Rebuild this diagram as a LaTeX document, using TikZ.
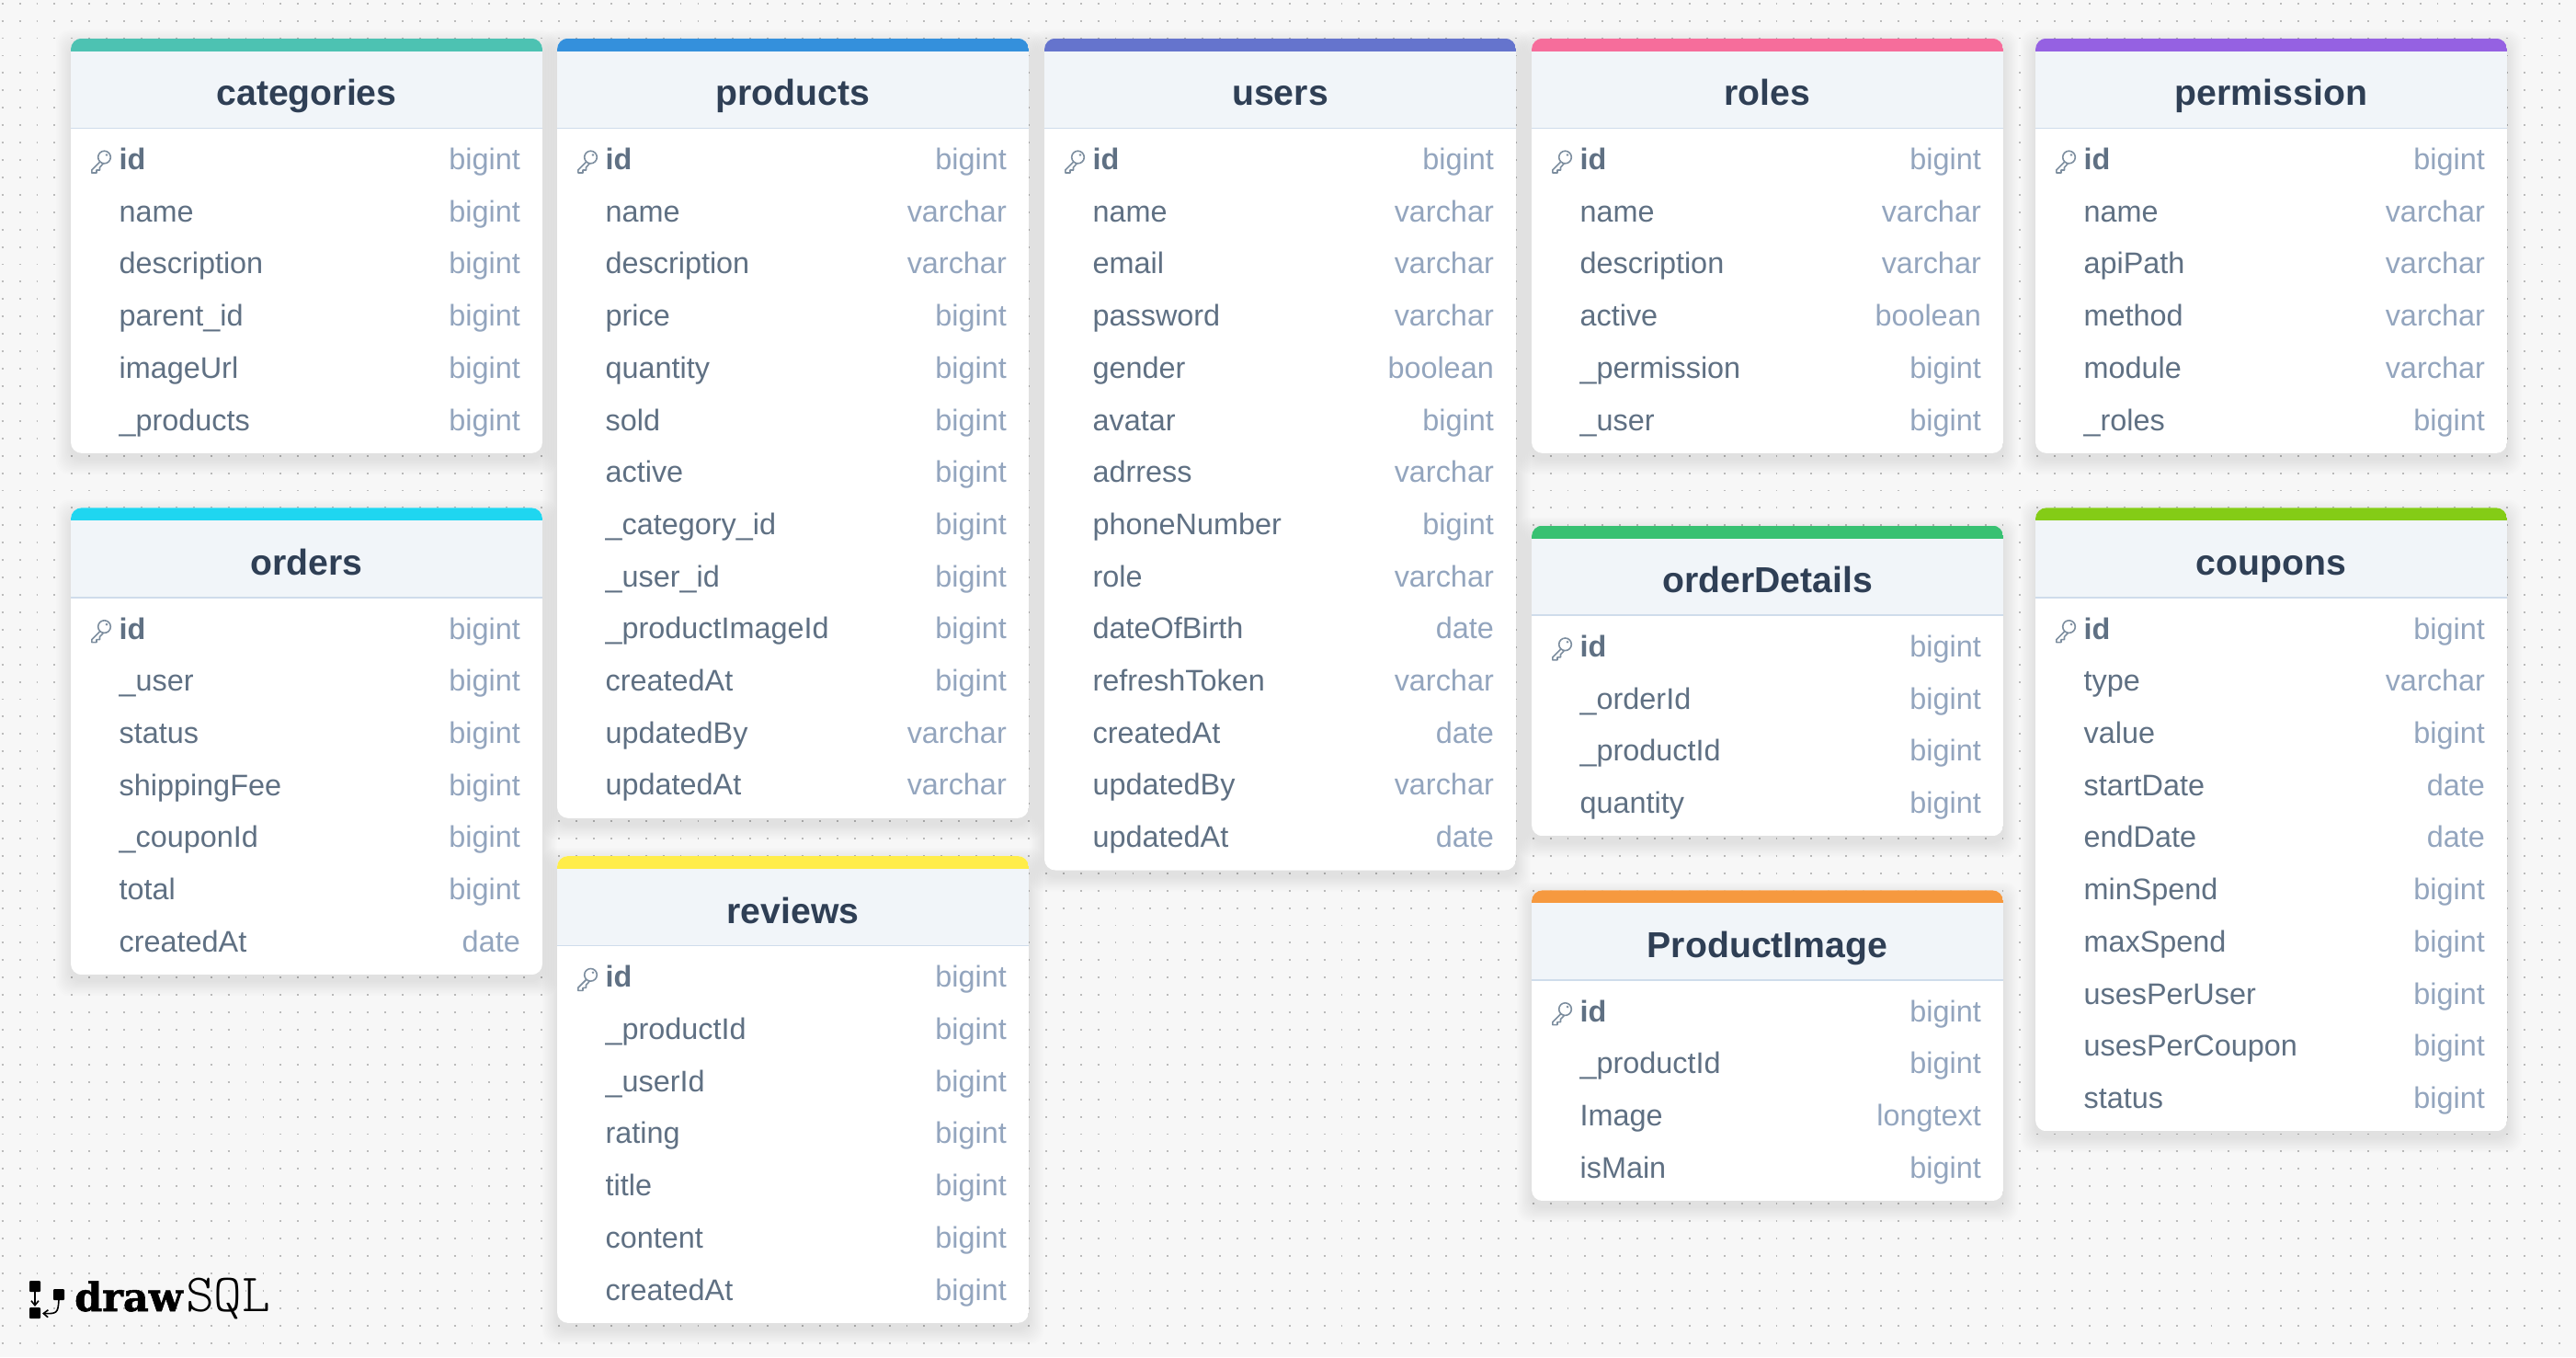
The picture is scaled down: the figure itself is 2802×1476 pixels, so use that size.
\documentclass[tikz,border=0pt]{standalone}
\usepackage{fontspec}
\setmainfont{Liberation Sans}
\newfontfamily\logobold{DejaVu Serif Bold}[FakeBold=1.3]
\newfontfamily\logolight{Latin Modern Mono Light}
\usetikzlibrary{arrows.meta}
\definecolor{pagebg}{HTML}{F7F7F7}
\definecolor{griddot}{HTML}{BBBBBB}
\definecolor{headfill}{HTML}{F1F5F9}
\definecolor{headline}{HTML}{CFDCEB}
\definecolor{titleink}{HTML}{2F3F55}
\definecolor{fieldink}{HTML}{5F7083}
\definecolor{typeink}{HTML}{93A5BE}
\definecolor{keyink}{HTML}{7D8E9F}
\definecolor{cteal}{HTML}{4DC2B2}
\definecolor{cblue}{HTML}{3490DC}
\definecolor{cindigo}{HTML}{6574CD}
\definecolor{cpink}{HTML}{F66D9B}
\definecolor{cpurple}{HTML}{9561E2}
\definecolor{ccyan}{HTML}{1FD6F0}
\definecolor{cyellow}{HTML}{FFED4A}
\definecolor{cgreen}{HTML}{38C172}
\definecolor{clime}{HTML}{84CC16}
\definecolor{corange}{HTML}{F6993F}
\pgfdeclarelayer{bglayer}
\pgfdeclarelayer{shadowlayer}
\pgfsetlayers{bglayer,shadowlayer,main}
\tikzset{
  titletext/.style={inner sep=0pt,anchor=base,text=titleink,font=\fontsize{39.2}{42}\selectfont\bfseries},
  fieldtext/.style={inner sep=0pt,anchor=base west,text=fieldink,font=\fontsize{32.4}{36}\selectfont},
  idtext/.style={inner sep=0pt,anchor=base west,text=fieldink,font=\fontsize{32.4}{36}\selectfont\bfseries},
  typetext/.style={inner sep=0pt,anchor=base east,text=typeink,font=\fontsize{32.4}{36}\selectfont},
  keyicon/.pic={
    \draw[keyink,line width=1.6pt,line join=round]
      (14.5,-0.5) circle (6.8)
      (9.8,4.5) -- (0.8,13.5) -- (0.8,16.5) -- (6,16.5) -- (6,13.5) -- (9.5,13.5) -- (9.5,10.5) -- (13.5,6.2);
    \fill[keyink] (17,-3) circle (1.4);
  }
}
\newcommand{\erdtable}[7]{% id, x, top, colour, title, row count, rows
  \pgfmathsetmacro{\tH}{111+56.7*#6}
  \begin{pgfonlayer}{shadowlayer}
    \foreach \e in {1,2.5,...,16}
      \fill[black,opacity=.008,rounded corners=14]
        ({#2-\e},{#3+7-\e}) rectangle ({#2+513+\e},{#3+\tH+7+\e});
  \end{pgfonlayer}
  \begin{scope}
    \clip[rounded corners=12] (#2,#3) rectangle ({#2+513},{#3+\tH});
    \fill[white] (#2,#3) rectangle ({#2+513},{#3+\tH});
    \fill[headfill] (#2,{#3+14}) rectangle ({#2+513},{#3+98});
    \fill[#4] (#2,#3) rectangle ({#2+513},{#3+14});
    \draw[headline,line width=1.5pt] (#2,{#3+97.6}) -- ({#2+513},{#3+97.6});
  \end{scope}
  \node[titletext] (#1-title) at ({#2+256.5},{#3+73}) {#5};
  \foreach \fname/\ftype [count=\k from 0] in {#7}{
    \pgfmathsetmacro{\rowy}{#3+142.8+56.7*\k}
    \ifnum\k=0
      \pic at ({#2+22},{\rowy-13}) {keyicon};
      \node[idtext] (#1-f\k) at ({#2+52.4},\rowy) {\fname};
    \else
      \node[fieldtext] (#1-f\k) at ({#2+52.4},\rowy) {\fname};
    \fi
    \node[typetext] (#1-t\k) at ({#2+513-24},\rowy) {\ftype};
  }
}
\begin{document}
\begin{tikzpicture}[x=1pt,y=-1pt]
\useasboundingbox (0,0) rectangle (2802,1476);
\begin{pgfonlayer}{bglayer}
  \fill[pagebg] (0,0) rectangle (2802,1476);
  \foreach \r in {0,...,77}
    \draw[griddot,line width=1.9pt,dash pattern=on 1.9pt off 17.02pt]
      (1.7,{3.7+18.92*\r}) -- (2802,{3.7+18.92*\r});
\end{pgfonlayer}

\erdtable{categories}{77}{41.7}{cteal}{categories}{6}{id/bigint,name/bigint,description/bigint,parent\_id/bigint,imageUrl/bigint,\_products/bigint}
\erdtable{orders}{77}{552.3}{ccyan}{orders}{7}{id/bigint,\_user/bigint,status/bigint,shippingFee/bigint,\_couponId/bigint,total/bigint,createdAt/date}
\erdtable{products}{606}{41.7}{cblue}{products}{13}{id/bigint,name/varchar,description/varchar,price/bigint,quantity/bigint,sold/bigint,active/bigint,\_category\_id/bigint,\_user\_id/bigint,\_productImageId/bigint,createdAt/bigint,updatedBy/varchar,updatedAt/varchar}
\erdtable{reviews}{606}{931}{cyellow}{reviews}{7}{id/bigint,\_productId/bigint,\_userId/bigint,rating/bigint,title/bigint,content/bigint,createdAt/bigint}
\erdtable{users}{1136}{41.7}{cindigo}{users}{14}{id/bigint,name/varchar,email/varchar,password/varchar,gender/boolean,avatar/bigint,adrress/varchar,phoneNumber/bigint,role/varchar,dateOfBirth/date,refreshToken/varchar,createdAt/date,updatedBy/varchar,updatedAt/date}
\erdtable{roles}{1666}{41.7}{cpink}{roles}{6}{id/bigint,name/varchar,description/varchar,active/boolean,\_permission/bigint,\_user/bigint}
\erdtable{orderDetails}{1666}{571.5}{cgreen}{orderDetails}{4}{id/bigint,\_orderId/bigint,\_productId/bigint,quantity/bigint}
\erdtable{ProductImage}{1666}{968.3}{corange}{ProductImage}{4}{id/bigint,\_productId/bigint,Image/longtext,isMain/bigint}
\erdtable{permission}{2214}{41.7}{cpurple}{permission}{6}{id/bigint,name/varchar,apiPath/varchar,method/varchar,module/varchar,\_roles/bigint}
\erdtable{coupons}{2214}{552.3}{clime}{coupons}{10}{id/bigint,type/varchar,value/bigint,startDate/date,endDate/date,minSpend/bigint,maxSpend/bigint,usesPerUser/bigint,usesPerCoupon/bigint,status/bigint}

% drawSQL logo
\node[fill=black,minimum width=12pt,minimum height=12pt,inner sep=0pt,rounded corners=1pt] (logoA) at (38,1399) {};
\node[fill=black,minimum width=12pt,minimum height=12pt,inner sep=0pt,rounded corners=1pt] (logoB) at (64,1408) {};
\node[fill=black,minimum width=12pt,minimum height=12pt,inner sep=0pt,rounded corners=1pt] (logoC) at (38,1428) {};
\draw[black,line width=1.6pt,-{Straight Barb[length=5pt,width=8pt]}] (logoA.south) -- (38,1421);
\draw[black,line width=1.6pt,-{Straight Barb[length=5pt,width=8pt]}] (logoB.south) .. controls (63,1428) and (62,1429) .. (46,1428.5);
\node[inner sep=0pt,anchor=base west,font=\fontsize{43}{46}\selectfont\logobold] (logoDraw) at (81,1426) {draw};
\node[inner sep=0pt,anchor=base west,font=\fontsize{58.5}{60}\selectfont\logolight] (logoSQL) at (202,1426) {SQL};
\end{tikzpicture}
\end{document}
